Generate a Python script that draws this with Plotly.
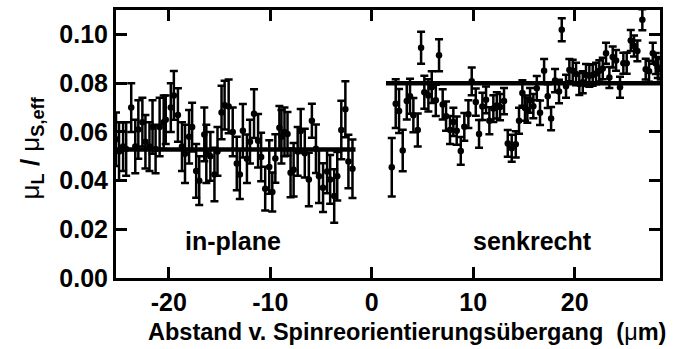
import plotly.graph_objects as go

# ---- data ----
x_inplane = [-25.2, -24.9, -24.5, -24.2, -23.7, -23.3, -23.0, -22.6, -22.3, -21.9,
             -21.6, -21.3, -20.9, -20.5, -20.3, -19.8, -19.5, -19.1, -18.7, -18.4,
             -18.0, -17.7, -17.3, -17.0, -16.5, -16.3, -15.9, -15.5, -15.2, -14.8,
             -14.5, -14.1, -13.7, -13.3, -13.0, -12.7, -12.3, -12.0, -11.6, -11.2,
             -10.9, -10.5, -10.1, -9.8, -9.5, -9.1, -8.9, -8.6, -8.3, -8.0,
             -7.7, -7.3, -7.0, -6.6, -6.2, -5.9, -5.5, -5.2, -4.8, -4.4,
             -4.1, -3.7, -3.4, -3.0, -2.6, -2.3, -1.9]
y_inplane = [0.057, 0.052, 0.054, 0.053, 0.070, 0.054, 0.061, 0.064, 0.056, 0.054,
             0.062, 0.053, 0.062, 0.064, 0.065, 0.070, 0.075, 0.067, 0.054, 0.051,
             0.058, 0.062, 0.044, 0.040, 0.059, 0.051, 0.050, 0.0425, 0.052, 0.068,
             0.071, 0.0705, 0.060, 0.047, 0.0425, 0.0605, 0.049, 0.056, 0.0675, 0.0564,
             0.0497, 0.0367, 0.0456, 0.0353, 0.0491, 0.0617, 0.058, 0.060, 0.0592, 0.0432,
             0.0445, 0.052, 0.0604, 0.0513, 0.0405, 0.0646, 0.0531, 0.0418, 0.0371, 0.0438,
             0.0405, 0.0337, 0.0418, 0.0608, 0.0693, 0.0479, 0.0449]
e_inplane = [0.011, 0.012, 0.010, 0.011, 0.010, 0.011, 0.012, 0.010, 0.011, 0.010,
             0.011, 0.010, 0.012, 0.011, 0.010, 0.010, 0.010, 0.011, 0.010, 0.012,
             0.011, 0.010, 0.011, 0.010, 0.011, 0.012, 0.010, 0.011, 0.010, 0.011,
             0.010, 0.011, 0.010, 0.011, 0.010, 0.011, 0.010, 0.009, 0.010, 0.011,
             0.010, 0.009, 0.011, 0.008, 0.010, 0.009, 0.011, 0.010, 0.009, 0.010,
             0.011, 0.010, 0.009, 0.010, 0.011, 0.007, 0.010, 0.011, 0.010, 0.009,
             0.010, 0.011, 0.010, 0.012, 0.0115, 0.011, 0.012]

x_senk = [1.97, 2.36, 2.69, 3.05, 3.45, 3.77, 4.10, 4.53, 4.86, 5.18,
          5.58, 5.91, 6.31, 6.63, 6.99, 7.32, 7.71, 8.04, 8.37, 8.77,
          9.12, 9.52, 9.85, 10.25, 10.57, 10.90, 11.26, 11.59, 11.98, 12.32,
          12.64, 13.03, 13.40, 13.79, 14.19, 14.51, 14.84, 15.10, 15.33, 15.60,
          15.92, 16.26, 16.58, 16.98, 17.34, 17.67, 18.06, 18.45, 18.72, 19.14,
          19.47, 19.80, 20.13, 20.45, 20.79, 21.11, 21.44, 21.77, 22.10, 22.42,
          22.76, 23.08, 23.41, 23.74, 24.07, 24.46, 24.79, 25.12, 25.52, 25.84,
          26.17, 26.66, 26.99, 27.32, 27.69, 27.98, 28.18, 28.47]
y_senk = [0.0455, 0.0716, 0.0686, 0.0524, 0.0727, 0.0747, 0.0669, 0.0608, 0.0946, 0.0763,
          0.075, 0.0784, 0.073, 0.0915, 0.0713, 0.0665, 0.0608, 0.0641, 0.0605, 0.0522,
          0.0621, 0.0673, 0.0808, 0.0723, 0.0592, 0.0705, 0.0732, 0.0646, 0.0696, 0.0709,
          0.0702, 0.0727, 0.0553, 0.0533, 0.0549, 0.0646, 0.076, 0.0698, 0.0689, 0.073,
          0.0706, 0.078, 0.0679, 0.0851, 0.0747, 0.0655, 0.0811, 0.0766, 0.102, 0.0788,
          0.0854, 0.0851, 0.0838, 0.0797, 0.0804, 0.0834, 0.0831, 0.0834, 0.084, 0.0851,
          0.0861, 0.0923, 0.0824, 0.0908, 0.0894, 0.0784, 0.0882, 0.0882, 0.0976, 0.0953,
          0.0933, 0.1061, 0.0858, 0.0849, 0.0923, 0.0881, 0.0865, 0.0858]
e_senk = [0.012, 0.010, 0.009, 0.0085, 0.0076, 0.0072, 0.007, 0.0068, 0.0066, 0.0068,
          0.0066, 0.0065, 0.0064, 0.0066, 0.0062, 0.0060, 0.0058, 0.0058, 0.0058, 0.0057,
          0.0057, 0.0057, 0.0057, 0.0056, 0.0057, 0.0056, 0.0055, 0.0055, 0.0055, 0.0054,
          0.0054, 0.0054, 0.0055, 0.0055, 0.0054, 0.0053, 0.0052, 0.0052, 0.0051, 0.0051,
          0.0050, 0.0050, 0.0050, 0.0049, 0.0049, 0.0048, 0.0048, 0.0048, 0.0047, 0.0047,
          0.0046, 0.0046, 0.0046, 0.0045, 0.0045, 0.0045, 0.0045, 0.0044, 0.0044, 0.0044,
          0.0044, 0.0043, 0.0043, 0.0043, 0.0043, 0.0043, 0.0043, 0.0043, 0.0043, 0.0043,
          0.0043, 0.0043, 0.0043, 0.0043, 0.0043, 0.0043, 0.0043, 0.0043]

fit_inplane_x = [-25.2, -1.6]
fit_inplane_y = [0.0528, 0.0528]
fit_senk_x = [1.4, 28.4]
fit_senk_y = [0.080, 0.080]

x_ticks = [-20, -10, 0, 10, 20]
y_ticks = [0.00, 0.02, 0.04, 0.06, 0.08, 0.10]

FONT = "Liberation Sans"

fig = go.Figure()
for xs, ys, es in [(x_inplane, y_inplane, e_inplane), (x_senk, y_senk, e_senk)]:
    fig.add_trace(go.Scatter(
        x=xs, y=ys, mode="markers",
        marker=dict(color="black", size=6.5),
        error_y=dict(type="data", array=es, visible=True, color="black",
                     thickness=2.5, width=4),
        showlegend=False))
for xs, ys in [(fit_inplane_x, fit_inplane_y), (fit_senk_x, fit_senk_y)]:
    fig.add_trace(go.Scatter(x=xs, y=ys, mode="lines",
                             line=dict(color="black", width=4.5), showlegend=False))

axis_common = dict(showline=True, linecolor="black", linewidth=3, mirror="ticks",
                   ticks="inside", ticklen=11, tickwidth=3, tickcolor="black",
                   showgrid=False, zeroline=False,
                   tickfont=dict(family=FONT, size=25, color="black", weight="bold"))

fig.update_xaxes(range=[-25.2, 28.4], tickvals=x_ticks, ticktext=[str(v) for v in x_ticks],
                 **axis_common)
fig.update_yaxes(range=[0, 0.1101], tickvals=y_ticks,
                 ticktext=["%.2f" % v for v in y_ticks], **axis_common)

fig.add_annotation(text="in-plane", x=-13.7, y=0.015, xref="x", yref="y",
                   showarrow=False, font=dict(family=FONT, size=25, color="black", weight="bold"))
fig.add_annotation(text="senkrecht", x=15.8, y=0.015, xref="x", yref="y",
                   showarrow=False, font=dict(family=FONT, size=25, color="black", weight="bold"))
fig.add_annotation(text="Abstand v. Spinreorientierungsübergang&nbsp; (<span style='font-weight:normal'>μ</span>m)",
                   x=407, y=333, xref="paper", yref="paper", showarrow=False,
                   xanchor="center", yanchor="middle",
                   font=dict(family=FONT, size=23.5, color="black", weight="bold"))
fig.add_annotation(text="<span style='font-weight:normal'>μ</span><sub>L</sub> / <span style='font-weight:normal'>μ</span><sub>S,eff</sub>",
                   x=31, y=147, xref="paper", yref="paper", showarrow=False, textangle=-90,
                   xanchor="center", yanchor="middle",
                   font=dict(family=FONT, size=26, color="black", weight="bold"))

W, H = 674, 349
L, R, T, B = 116, 14, 7, 71
# convert pixel-based paper annotations
for ann in fig.layout.annotations:
    if ann.xref == "paper":
        ann.x = (ann.x - L) / (W - L - R)
        ann.y = (H - B - ann.y) / (H - T - B)

fig.update_layout(width=W, height=H, margin=dict(l=L, r=R, t=T, b=B),
                  plot_bgcolor="white", paper_bgcolor="white",
                  font=dict(family=FONT, color="black"))

fig.write_html("out.html")
